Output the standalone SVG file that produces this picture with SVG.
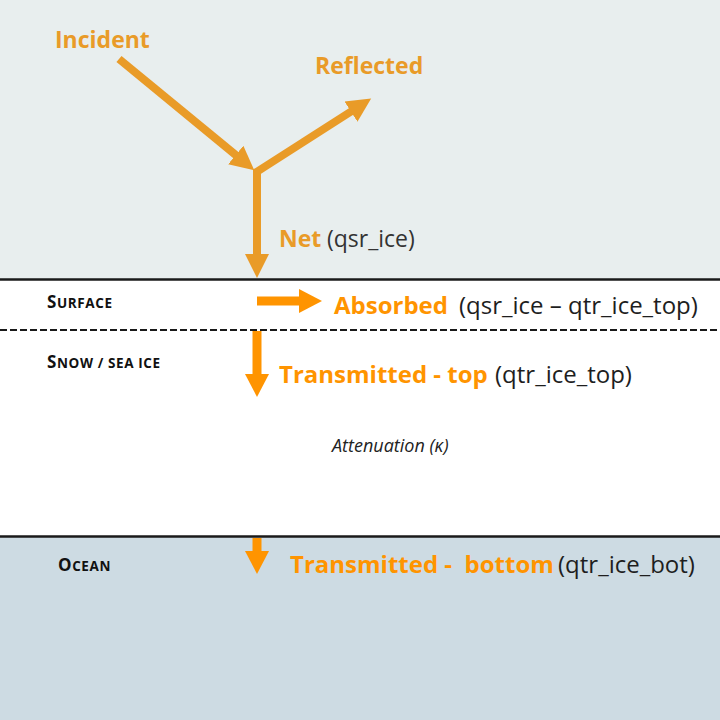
<svg xmlns="http://www.w3.org/2000/svg" width="720" height="720" viewBox="0 0 720 720">
<style>
.lbl{font-family:"Open Sans","Liberation Sans",sans-serif;font-weight:700;font-size:24px}
.top{fill:#e99b28}
.low{fill:#ff9400}
.par{font-family:"Open Sans","Liberation Sans",sans-serif;font-weight:400;font-size:24px;fill:#1e1e1e}
.layer{font-family:"Open Sans","Liberation Sans",sans-serif;font-weight:700;font-size:13.5px;letter-spacing:0.6px;fill:#111}
.cap{font-size:17px}
.ital{font-family:"Open Sans","Liberation Sans",sans-serif;font-style:italic;font-size:18px;fill:#222}
.ca{fill:none;stroke:#e99b28;stroke-width:8}
.cb{fill:none;stroke:#ff9400;stroke-width:9}
</style>
<defs>
<marker id="ha" markerUnits="userSpaceOnUse" markerWidth="26" markerHeight="26" viewBox="0 -13 26 26" refX="1" refY="0" orient="auto">
<path d="M0,-12 L24,0 L0,12 Z" fill="#e99b28"/>
</marker>
<marker id="hb" markerUnits="userSpaceOnUse" markerWidth="26" markerHeight="26" viewBox="0 -13 26 26" refX="1" refY="0" orient="auto">
<path d="M0,-12 L23,0 L0,12 Z" fill="#ff9400"/>
</marker>
</defs>
<g id="background">
<rect x="0" y="0" width="720" height="280" fill="#e8eeee"/>
<rect x="0" y="280" width="720" height="256" fill="#ffffff"/>
<rect x="0" y="536" width="720" height="184" fill="#cddbe3"/>
<line x1="0" y1="279.5" x2="720" y2="279.5" stroke="#1a1a1a" stroke-width="2.5"/>
<line x1="0" y1="536.5" x2="720" y2="536.5" stroke="#1a1a1a" stroke-width="2.5"/>
<line x1="0" y1="330" x2="720" y2="330" stroke="#1a1a1a" stroke-width="2" stroke-dasharray="7 3"/>
</g>
<g id="connectors">
<path class="ca" d="M119,59 L236.5,155.7" marker-end="url(#ha)"/>
<path class="ca" d="M255,173 L351.8,111" marker-end="url(#ha)"/>
<path class="ca" d="M257,169 L257,255" marker-end="url(#ha)"/>
<path class="cb" d="M257,301 L300,301" marker-end="url(#hb)"/>
<path class="cb" d="M257,331 L257,375" marker-end="url(#hb)"/>
<path class="cb" d="M257,538 L257,552" marker-end="url(#hb)"/>
</g>
<g id="incident"><text class="lbl top" x="55" y="48" style="font-size:23px">Incident</text></g>
<g id="reflected"><text class="lbl top" x="315" y="74" style="font-size:23px">Reflected</text></g>
<g id="net"><text class="lbl top" x="279" y="247" style="font-size:23px">Net</text><text class="par" x="327" y="247" style="font-size:23px;fill:#333">(qsr_ice)</text></g>
<g id="surface"><text class="layer" x="47" y="308"><tspan class="cap">S</tspan>URFACE</text></g>
<g id="absorbed"><text class="lbl low" x="334" y="314">Absorbed</text><text class="par" x="459" y="314">(qsr_ice – qtr_ice_top)</text></g>
<g id="snow-ice"><text class="layer" x="47" y="368" xml:space="preserve"><tspan class="cap">S</tspan>NOW / SEA ICE</text></g>
<g id="transmitted-top"><text class="lbl low" x="279" y="383">Transmitted - top</text><text class="par" x="495" y="383">(qtr_ice_top)</text></g>
<g id="attenuation"><text class="ital" x="332" y="452">Attenuation (κ)</text></g>
<g id="ocean"><text class="layer" x="58" y="571"><tspan class="cap">O</tspan>CEAN</text></g>
<g id="transmitted-bottom"><text class="lbl low" x="290" y="573" xml:space="preserve">Transmitted -  bottom</text><text class="par" x="558" y="573">(qtr_ice_bot)</text></g>
</svg>
